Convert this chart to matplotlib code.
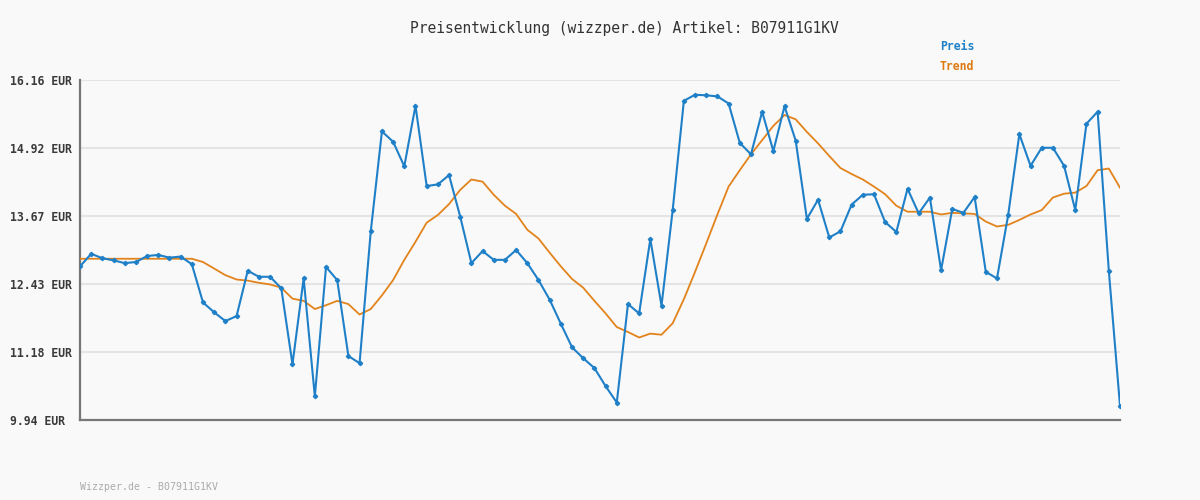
import matplotlib.pyplot as plt
import numpy as np

# Price data (EUR)
# ---------------------------------------------
preis = [12.75, 12.98, 12.90, 12.86, 12.81, 12.83, 12.94, 12.96, 12.91, 12.93,
         12.79, 12.09, 11.91, 11.75, 11.84, 12.67, 12.56, 12.56, 12.35, 10.96,
         12.53, 10.37, 12.74, 12.50, 11.11, 10.98, 13.39, 15.22, 15.03, 14.58,
         15.69, 14.22, 14.25, 14.42, 13.66, 12.81, 13.03, 12.87, 12.87, 13.05,
         12.81, 12.50, 12.14, 11.70, 11.27, 11.07, 10.89, 10.56, 10.26, 12.06,
         11.89, 13.25, 12.03, 13.78, 15.78, 15.89, 15.88, 15.86, 15.73, 15.01,
         14.80, 15.58, 14.86, 15.68, 15.05, 13.62, 13.97, 13.28, 13.39, 13.88,
         14.06, 14.07, 13.56, 13.38, 14.17, 13.72, 14.01, 12.68, 13.80, 13.73,
         14.02, 12.65, 12.53, 13.69, 15.17, 14.59, 14.92, 14.92, 14.59, 13.78,
         15.36, 15.58, 12.67, 10.20]

trend = [12.89, 12.89, 12.89, 12.89, 12.89, 12.89, 12.89, 12.89, 12.89, 12.89,
         12.89, 12.83, 12.71, 12.59, 12.51, 12.49, 12.45, 12.42, 12.36, 12.16,
         12.12, 11.97, 12.04, 12.12, 12.06, 11.87, 11.97, 12.22, 12.50, 12.87,
         13.20, 13.55, 13.69, 13.89, 14.15, 14.34, 14.30, 14.06, 13.86, 13.71,
         13.42, 13.26, 13.00, 12.75, 12.52, 12.36, 12.12, 11.89, 11.64, 11.55,
         11.45, 11.52, 11.50, 11.71, 12.15, 12.65, 13.17, 13.70, 14.21, 14.51,
         14.80, 15.06, 15.32, 15.52, 15.44, 15.21, 15.00, 14.77, 14.55, 14.44,
         14.34, 14.21, 14.07, 13.86, 13.75, 13.75, 13.75, 13.70, 13.73, 13.72,
         13.71, 13.57, 13.48, 13.51, 13.60, 13.70, 13.78, 14.01, 14.08, 14.10,
         14.22, 14.51, 14.54, 14.19]

yticks = [9.94, 11.18, 12.43, 13.67, 14.92, 16.16]
ytick_labels = ['%.2f EUR' % v for v in yticks]

titel = 'Preisentwicklung (wizzper.de) Artikel: B07911G1KV'
fusszeile = 'Wizzper.de - B07911G1KV'

blau = '#1f80c8'
orange = '#e2831c'
bg = '#f9f9f9'

# Figure and axes
# ---------------
fig = plt.figure(figsize=(12, 5), dpi=100, facecolor=bg)
ax = fig.add_axes([80 / 1200, 80 / 500, 1040 / 1200, 340 / 500], facecolor=bg)

x = np.arange(len(preis))
ax.plot(x, trend, color=orange, lw=1.3, zorder=3)
ax.plot(x, preis, color=blau, lw=1.5, marker='D', ms=2.2, zorder=4)

ax.set_xlim(0, len(preis) - 1)
ax.set_ylim(yticks[0], yticks[-1])
ax.set_xticks([])
ax.set_yticks(yticks)
ax.set_yticklabels(ytick_labels, family='DejaVu Sans Mono', fontsize=8.3,
                   fontweight='bold', color='#3a3a3a', ha='left')
ax.tick_params(axis='y', length=0, pad=50.4)
ax.grid(axis='y', color='#e4e4e4', lw=1.5, zorder=0)

for s in ['top', 'right']:
    ax.spines[s].set_visible(False)
for s in ['left', 'bottom']:
    ax.spines[s].set_color('#777777')
    ax.spines[s].set_linewidth(1.6)

# Title, legend labels and footer
# -------------------------------
fig.text(624 / 1200, 1 - 28 / 500, titel, ha='center', va='center',
         family='DejaVu Sans Mono', fontsize=10.5, color='#333333')
fig.text(940 / 1200, 1 - 47 / 500, 'Preis', ha='left', va='center',
         family='DejaVu Sans Mono', fontsize=8.3, fontweight='bold', color=blau)
fig.text(940 / 1200, 1 - 67 / 500, 'Trend', ha='left', va='center',
         family='DejaVu Sans Mono', fontsize=8.3, fontweight='bold', color='#de7a10')
fig.text(80 / 1200, 1 - 487 / 500, fusszeile, ha='left', va='center',
         family='DejaVu Sans Mono', fontsize=7.1, color='#aaaaaa')

fig.savefig('out.png', dpi=100, facecolor=bg)
